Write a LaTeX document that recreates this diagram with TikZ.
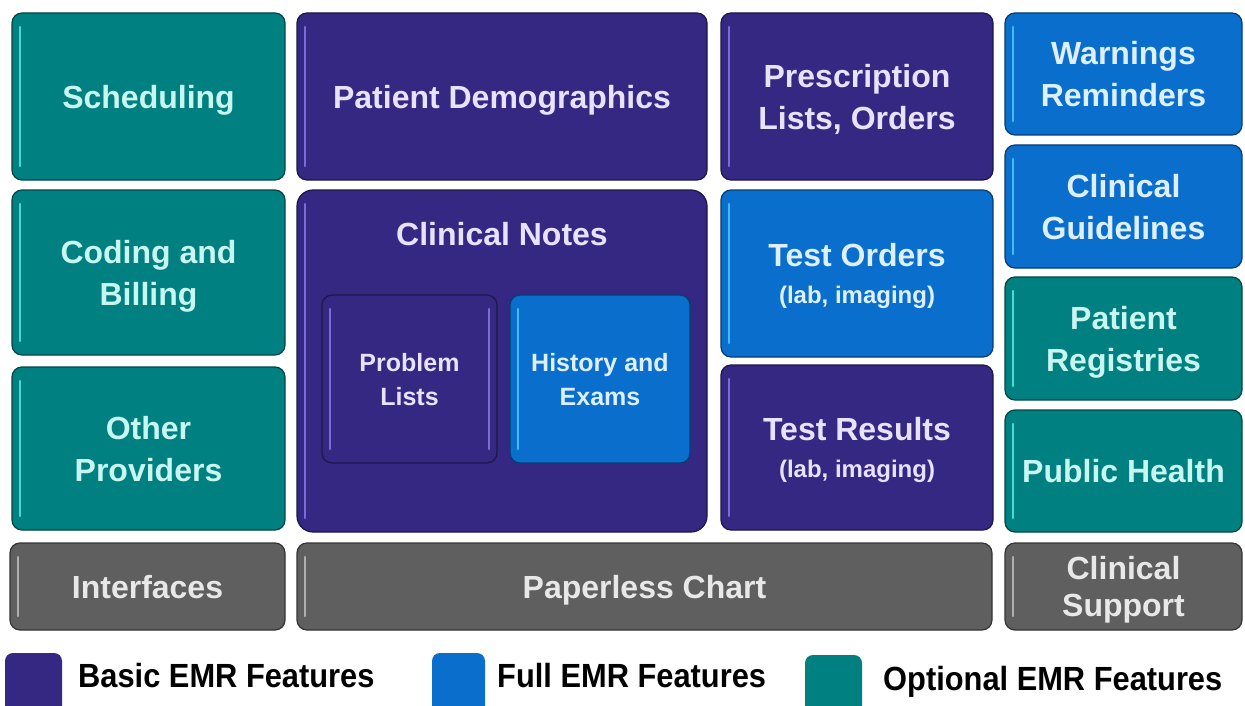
\documentclass[tikz,border=0pt]{standalone}
\usepackage{fontspec}
\setmainfont{Liberation Sans}
\newfontfamily\legfont{Liberation Sans}[FakeStretch=0.92]
\definecolor{cpurple}{RGB}{52,40,130}
\definecolor{cblue}{RGB}{10,110,205}
\definecolor{cteal}{RGB}{0,128,128}
\definecolor{cgray}{RGB}{95,95,95}
\definecolor{tpurple}{RGB}{232,226,255}
\definecolor{tblue}{RGB}{222,240,255}
\definecolor{tteal}{RGB}{200,246,240}
\definecolor{tgray}{RGB}{232,232,232}
\definecolor{hpurple}{RGB}{122,108,212}
\definecolor{hblue}{RGB}{70,185,255}
\definecolor{hteal}{RGB}{70,222,212}
\definecolor{hgray}{RGB}{175,175,175}
\tikzset{
  emr/.style={rectangle, rounded corners=10pt, inner sep=0pt, outer sep=0pt,
    align=center, line width=1.2pt, text depth=-6pt,
    font=\bfseries\fontsize{32}{42}\selectfont},
  hl/.style={path picture={\draw[#1, line width=2.5pt, line cap=round]
    ([xshift=8pt,yshift=-14pt]path picture bounding box.north west) --
    ([xshift=8pt,yshift=14pt]path picture bounding box.south west);}},
  hlboth/.style={path picture={\draw[#1, line width=2.5pt, line cap=round]
    ([xshift=8pt,yshift=-14pt]path picture bounding box.north west) --
    ([xshift=8pt,yshift=14pt]path picture bounding box.south west)
    ([xshift=-8pt,yshift=-14pt]path picture bounding box.north east) --
    ([xshift=-8pt,yshift=14pt]path picture bounding box.south east);}},
  tealbox/.style={emr, fill=cteal, draw=cteal!55!black, text=tteal, hl=hteal},
  purplebox/.style={emr, fill=cpurple, draw=cpurple!55!black, text=tpurple, hl=hpurple},
  bluebox/.style={emr, fill=cblue, draw=cblue!55!black, text=tblue, hl=hblue},
  graybox/.style={emr, fill=cgray, draw=cgray!55!black, text=tgray, hl=hgray},
  smalltext/.style={font=\bfseries\fontsize{25}{34}\selectfont},
  legsq/.style={rectangle, rounded corners=8pt, inner sep=0pt, outer sep=0pt, anchor=north west},
  legtext/.style={font=\legfont\bfseries\fontsize{33.5}{40}\selectfont, text=black, anchor=base west, inner sep=0pt},
}
\begin{document}
\begin{tikzpicture}[x=1pt, y=-1pt]
\useasboundingbox[fill=white] (0,0) rectangle (1245,706);

% column 1
\node[tealbox, text depth=0pt, minimum width=273pt, minimum height=167pt] (sched) at (148.5,96.5) {Scheduling};
\node[tealbox, minimum width=273pt, minimum height=165pt] (coding) at (148.5,272.5) {Coding and\\Billing};
\node[tealbox, text depth=-9pt, minimum width=273pt, minimum height=163pt] (other) at (148.5,448.5) {Other\\Providers};
\node[graybox, minimum width=275pt, minimum height=87pt] (interf) at (147.5,586.5) {Interfaces};

% column 2
\node[purplebox, minimum width=410pt, minimum height=167pt] (demo) at (502,96.5) {Patient Demographics};
\node[purplebox, rounded corners=16pt, minimum width=410pt, minimum height=342pt] (notes) at (502,361) {};
\node[emr, text=tpurple, anchor=base] (notestitle) at (502,245) {Clinical Notes};
\node[purplebox, smalltext, hlboth=hpurple, minimum width=175pt, minimum height=168pt] (problem) at (409.5,379) {Problem\\Lists};
\node[bluebox, smalltext, minimum width=180pt, minimum height=168pt] (history) at (600,379) {History and\\Exams};
\node[graybox, minimum width=695pt, minimum height=87pt] (paper) at (644.5,586.5) {Paperless Chart};

% column 3
\node[purplebox, text depth=-9pt, minimum width=272pt, minimum height=167pt] (presc) at (857,96.5) {Prescription\\Lists, Orders};
\node[bluebox, minimum width=272pt, minimum height=167pt] (torders) at (857,273.5) {Test Orders\\[-5pt]{\fontsize{24}{30}\selectfont (lab, imaging)}};
\node[purplebox, minimum width=272pt, minimum height=165pt] (tresults) at (857,447.5) {Test Results\\[-5pt]{\fontsize{24}{30}\selectfont (lab, imaging)}};

% column 4
\node[bluebox, text depth=-9pt, minimum width=237pt, minimum height=122pt] (warn) at (1123.5,74) {Warnings\\Reminders};
\node[bluebox, minimum width=237pt, minimum height=123pt] (guide) at (1123.5,206.5) {Clinical\\Guidelines};
\node[tealbox, minimum width=237pt, minimum height=123pt] (registries) at (1123.5,338.5) {Patient\\Registries};
\node[tealbox, text depth=-3pt, minimum width=237pt, minimum height=122pt] (public) at (1123.5,471) {Public Health};
\node[graybox, minimum width=237pt, minimum height=87pt] (support) at (1123.5,586.5) {Clinical\\[-5pt]Support};

% legend
\begin{scope}
\clip (0,0) rectangle (1245,706);
\node[legsq, fill=cpurple, minimum width=57pt, minimum height=62pt] (lbasic) at (5,653) {};
\node[legsq, fill=cblue, minimum width=53pt, minimum height=62pt] (lfull) at (432,653) {};
\node[legsq, fill=cteal, minimum width=57pt, minimum height=60pt] (lopt) at (805,655) {};
\end{scope}
\node[legtext] (tbasic) at (78,687) {Basic EMR Features};
\node[legtext] (tfull) at (497,687) {Full EMR Features};
\node[legtext] (topt) at (883,690) {Optional EMR Features};
\end{tikzpicture}
\end{document}
